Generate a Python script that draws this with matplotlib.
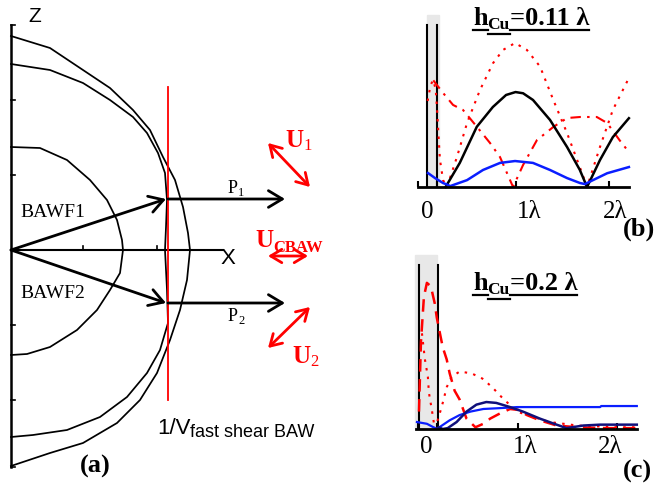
import matplotlib
matplotlib.use('Agg')
import matplotlib.pyplot as plt

plt.rcParams['font.family'] = ['Liberation Serif', 'DejaVu Serif']
SERIF = 'Liberation Serif'
SANS = 'Liberation Sans'

# ---- panel (a): slowness curves, (x, z) with the origin on the Z axis
outer_x = [0, 39, 72, 99, 122, 139, 152, 164, 172, 177, 179, 176, 169, 159, 146, 129, 106, 72, 39, 0]
outer_z = [214, 202, 180, 162, 140, 120, 93, 70, 43, 17, 0, -30, -60, -90, -123, -150, -173, -193, -203, -216]
mid_x = [0, 39, 72, 99, 122, 136, 147, 154, 156, 155, 154, 156, 157, 149, 136, 116, 89, 56, 22, 0]
mid_z = [186, 180, 167, 150, 133, 117, 97, 77, 50, 23, 0, -40, -73, -100, -123, -147, -167, -180, -185, -187]
inner_x = [0, 29, 56, 79, 96, 106, 111, 112, 109, 99, 86, 66, 39, 16, 0]
inner_z = [103, 102, 90, 70, 50, 30, 10, 0, -23, -40, -60, -80, -97, -104, -105]
fast_shear_x = 157
fast_shear_z = [-150, 163]
z_ticks = [225, 150, 75, -75, -150, -217]
x_ticks = [72, 146]
bawf1_tip = (155, 51)
bawf2_tip = (155, -53)
p_end = 274

# ---- panel (b): h_Cu = 0.11 lambda (x in wavelengths)
b_black_x = [0.26, 0.41, 0.59, 0.76, 0.9, 1.0, 1.08, 1.185, 1.365, 1.545, 1.68, 1.757, 1.894, 2.03, 2.2]
b_black_y = [0.0, 0.14, 0.35, 0.465, 0.535, 0.552, 0.545, 0.506, 0.39, 0.233, 0.1, 0.0, 0.157, 0.29, 0.40]
b_blue_x = [0.074, 0.148, 0.233, 0.286, 0.307, 0.487, 0.656, 0.836, 0.995, 1.185, 1.365, 1.545, 1.683, 1.735, 1.82, 1.97, 2.2]
b_blue_y = [0.081, 0.052, 0.023, 0.012, 0.005, 0.04, 0.099, 0.14, 0.151, 0.14, 0.099, 0.052, 0.023, 0.017, 0.04, 0.08, 0.116]
b_dot_x = [0.07, 0.1, 0.127, 0.155, 0.17, 0.185, 0.2, 0.233, 0.275, 0.38, 0.487, 0.624, 0.762, 0.868, 0.995,
           1.12, 1.26, 1.40, 1.545, 1.68, 1.757, 1.894, 2.03, 2.2]
b_dot_y = [0.5, 0.59, 0.622, 0.57, 0.45, 0.3, 0.16, 0.04, 0.0, 0.174, 0.372, 0.564, 0.72, 0.797, 0.837,
           0.797, 0.70, 0.506, 0.314, 0.116, 0.0, 0.233, 0.448, 0.634]
b_dash_x = [0.13, 0.233, 0.339, 0.444, 0.593, 0.73, 0.836, 0.974, 1.08, 1.227, 1.4, 1.545, 1.683, 1.86, 1.97, 2.1, 2.2]
b_dash_y = [0.62, 0.547, 0.477, 0.448, 0.349, 0.256, 0.174, 0.0, 0.128, 0.273, 0.349, 0.401, 0.407, 0.407, 0.372, 0.273, 0.203]
b_ticks = [-0.03, 0.17, 1.0, 1.99]
b_electrode = (0.063, 0.19)
b_walls = [0.063, 0.169]

# ---- panel (c): h_Cu = 0.2 lambda
c_blue_x = [-0.02, 0.08, 0.18, 0.31, 0.41, 0.52, 0.65, 0.82, 0.99, 1.15, 1.83, 1.84, 2.2]
c_blue_y = [0.04, 0.03, 0.0, 0.05, 0.08, 0.10, 0.115, 0.12, 0.126, 0.126, 0.126, 0.132, 0.132]
c_navy_x = [0.2, 0.24, 0.29, 0.38, 0.48, 0.58, 0.68, 0.78, 0.92, 1.05, 1.22, 1.39, 1.49, 1.66, 1.83, 2.2]
c_navy_y = [0.01, 0.0, 0.005, 0.04, 0.10, 0.14, 0.155, 0.15, 0.126, 0.10, 0.06, 0.025, 0.005, 0.02, 0.025, 0.025]
c_dash_x = [0.0, 0.02, 0.05, 0.08, 0.12, 0.16, 0.18, 0.24, 0.28, 0.31, 0.36, 0.41, 0.48, 0.57, 0.65, 0.72,
            0.82, 0.92, 1.0, 1.09, 1.22, 1.39, 1.6, 1.9, 2.2]
c_dash_y = [0.1, 0.5, 0.76, 0.84, 0.82, 0.72, 0.64, 0.47, 0.40, 0.32, 0.22, 0.17, 0.06, 0.01, 0.03, 0.06,
            0.09, 0.115, 0.11, 0.08, 0.05, 0.02, 0.01, 0.005, 0.005]
c_dot_x = [0.03, 0.06, 0.09, 0.10, 0.13, 0.16, 0.2, 0.24, 0.28, 0.33, 0.41, 0.53, 0.64, 0.74, 0.84, 0.99,
           1.15, 1.32, 1.6, 2.0, 2.2]
c_dot_y = [0.55, 0.40, 0.30, 0.21, 0.11, 0.0, 0.07, 0.15, 0.24, 0.30, 0.33, 0.32, 0.29, 0.24, 0.18, 0.10,
           0.07, 0.04, 0.02, 0.01, 0.01]
c_ticks = [-0.01, 0.18, 1.0, 2.0]
c_electrode = (-0.04, 0.182)
c_walls = [0.0, 0.192]

tick_text = ['0', '1λ', '2λ']
b_ticktext_x = [0.07, 1.14, 2.06]
c_ticktext_x = [0.07, 1.07, 1.93]

RED = '#ff0000'
BLUE = '#0a1eff'
NAVY = '#10107a'

fig = plt.figure(figsize=(6.57, 4.86), dpi=100)
ax = fig.add_axes([0, 0, 1, 1])
ax.set_xlim(-11, 646)
ax.set_ylim(-236, 250)
ax.set_autoscale_on(False)
ax.axis('off')
rend = fig.canvas.get_renderer()


def write_runs(x, y, parts, color='black', underline=False):
    # text pieces one after another (for subscripts in a different size)
    for s, size, weight, family, dy in parts:
        t = ax.text(x, y + dy, s, fontsize=size, fontweight=weight, family=family,
                    color=color, ha='left', va='baseline')
        w = t.get_window_extent(renderer=rend).width
        if underline:
            ax.plot([x, x + w], [y + dy - 5, y + dy - 5], color=color, lw=1.6)
        x += w
    return x


# --- (a) axes
ax.plot([0, 0], [z_ticks[0], z_ticks[-1]], color='black', lw=1.8)
for z in z_ticks:
    ax.plot([0, 4], [z, z], color='black', lw=1.2)
ax.plot([0, 212], [0, 0], color='black', lw=1.5)
for x in x_ticks:
    ax.plot([x, x], [0, 4], color='black', lw=1.2)
ax.text(24, 233, 'Z', family=SANS, fontsize=15, ha='center', va='center')
ax.text(217, -8, 'X', family=SANS, fontsize=16, ha='center', va='center')

ax.plot(outer_x, outer_z, color='black', lw=1.25)
ax.plot(mid_x, mid_z, color='black', lw=1.25)
ax.plot(inner_x, inner_z, color='black', lw=1.25)
ax.plot([fast_shear_x, fast_shear_x], fast_shear_z, color=RED, lw=1.3)

black_arrow = dict(arrowstyle='->, head_length=0.5, head_width=0.3', lw=2, color='black',
                   mutation_scale=20, shrinkA=0, shrinkB=0)
for tip in (bawf1_tip, bawf2_tip):
    ax.annotate('', xy=tip, xytext=(0, 0), arrowprops=black_arrow)
    ax.annotate('', xy=(p_end, tip[1]), xytext=(tip[0] + 2, tip[1]), arrowprops=black_arrow)

ax.text(9, 33, 'BAWF1', family=SERIF, fontsize=14, va='baseline')
ax.text(9, -48, 'BAWF2', family=SERIF, fontsize=14, va='baseline')
write_runs(217, 57, [('P', 13, 'normal', SERIF, 0), ('1', 9, 'normal', SERIF, -3)])
write_runs(217, -71, [('P', 13, 'normal', SERIF, 0), ('2', 9, 'normal', SERIF, -3)])

red_arrow = dict(arrowstyle='<->, head_length=0.5, head_width=0.3', lw=2, color=RED,
                 mutation_scale=16, shrinkA=0, shrinkB=0)
ax.annotate('', xy=(299, 63), xytext=(257, 107), arrowprops=red_arrow)
ax.annotate('', xy=(297, -6), xytext=(257, -6), arrowprops=red_arrow)
ax.annotate('', xy=(299, -57), xytext=(257, -98), arrowprops=red_arrow)
write_runs(274, 103, [('U', 18, 'bold', SERIF, 0), ('1', 12, 'normal', SERIF, -3)], color=RED)
write_runs(244, 3, [('U', 18, 'bold', SERIF, 0), ('CBAW', 12, 'bold', SERIF, -5)], color=RED)
write_runs(281, -113, [('U', 18, 'bold', SERIF, 0), ('2', 12, 'normal', SERIF, -3)], color=RED)

write_runs(146, -184, [('1/V', 16, 'normal', SANS, 0), ('fast shear BAW', 13, 'normal', SANS, -3)])

ax.text(69, -223, '(a)', family=SERIF, fontsize=19, fontweight='bold', va='baseline')
ax.text(612, 14, '(b)', family=SERIF, fontsize=19, fontweight='bold', va='baseline')
ax.text(612, -228, '(c)', family=SERIF, fontsize=19, fontweight='bold', va='baseline')

write_runs(462, 225, [('h', 19, 'bold', SERIF, 0), ('Cu', 12.5, 'bold', SERIF, -4),
                      ('=0.11 λ', 19, 'bold', SERIF, 0)], underline=True)
write_runs(462, -40, [('h', 19, 'bold', SERIF, 0), ('Cu', 12.5, 'bold', SERIF, -4),
                      ('=0.2 λ', 19, 'bold', SERIF, 0)], underline=True)


def profile_axes(rect, xlim, ticks, electrode, walls, ticktext_x, label_y):
    a = fig.add_axes(rect)
    a.patch.set_alpha(0)
    a.set_xlim(*xlim)
    a.set_ylim(0, 1)
    for side in ('top', 'right', 'left'):
        a.spines[side].set_visible(False)
    a.spines['bottom'].set_linewidth(2)
    a.set_xticks(ticks)
    a.set_yticks([])
    a.tick_params(axis='x', direction='in', length=4, width=1.5, labelbottom=False)
    a.axvspan(electrode[0], electrode[1], color='#e8e8e8', zorder=0, clip_on=False)
    for w in walls:
        a.plot([w, w], [0, 0.943], color='black', lw=1.5, zorder=1)
    for x, s in zip(ticktext_x, tick_text):
        a.text(x, label_y, s, family=SERIF, fontsize=18, ha='center', va='baseline')
    return a


ax_b = profile_axes([418 / 657, 1 - 187 / 486, 211 / 657, 172 / 486], (-0.032, 2.201),
                    b_ticks, b_electrode, b_walls, b_ticktext_x, -0.18)
ax_b.plot(b_dot_x, b_dot_y, color=RED, lw=1.5, ls=(0, (1.2, 3)), clip_on=False)
ax_b.plot(b_dash_x, b_dash_y, color=RED, lw=1.5, ls=(0, (5, 3, 1.2, 3)), clip_on=False)
ax_b.plot(b_black_x, b_black_y, color='black', lw=1.8, clip_on=False)
ax_b.plot(b_blue_x, b_blue_y, color=BLUE, lw=1.8, clip_on=False)

ax_c = profile_axes([416 / 657, 1 - 429 / 486, 221 / 657, 174 / 486], (-0.03, 2.202),
                    c_ticks, c_electrode, c_walls, c_ticktext_x, -0.138)
ax_c.plot(c_dot_x, c_dot_y, color=RED, lw=1.5, ls=(0, (1.2, 3)), clip_on=False)
ax_c.plot(c_dash_x, c_dash_y, color=RED, lw=1.8, ls=(0, (5, 3)), clip_on=False)
ax_c.plot(c_blue_x, c_blue_y, color=BLUE, lw=1.6, clip_on=False)
ax_c.plot(c_navy_x, c_navy_y, color=NAVY, lw=1.8, clip_on=False)

fig.savefig('out.png', dpi=100)
